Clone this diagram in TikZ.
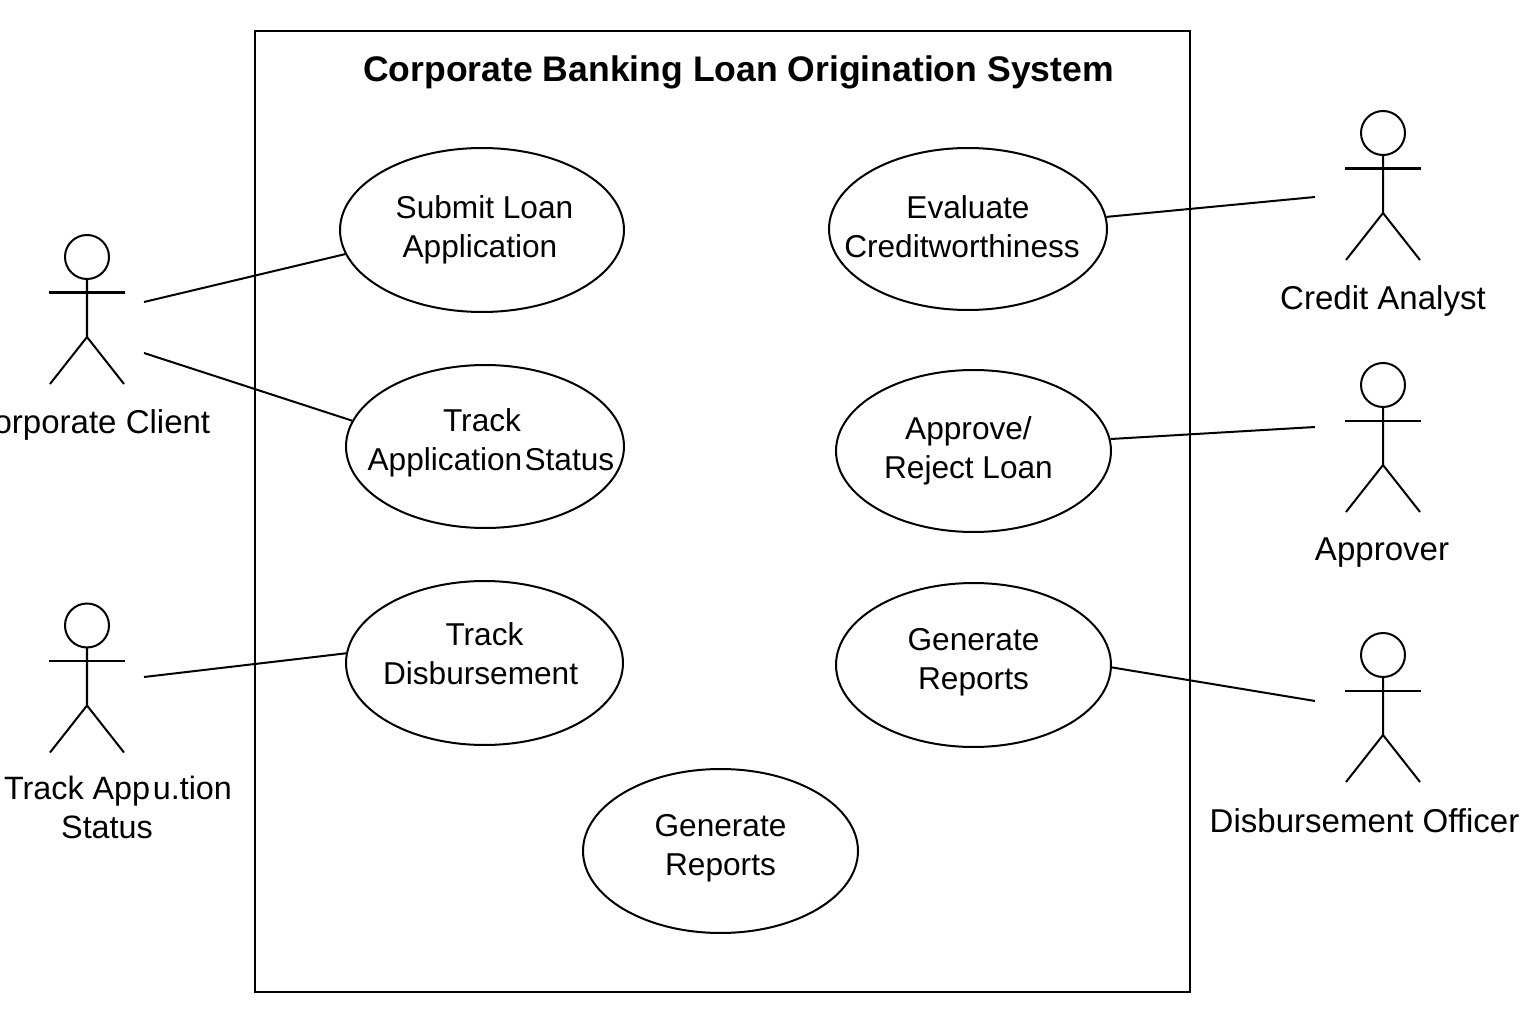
\documentclass[tikz,border=0pt]{standalone}
\usepackage{fontspec}
\setmainfont{Liberation Sans}
\usetikzlibrary{shapes.geometric}
\newcommand{\ucname}[3]{\makebox[0pt]{\begin{tabular}{@{}c@{}}#2\\#3\\[#1pt]\end{tabular}}}
\tikzset{
  usecase/.style={draw, ellipse, line width=1.14pt, inner sep=0pt, font=\fontsize{18}{22.2}\selectfont},
  actorname/.style={align=center, inner sep=0pt, font=\fontsize{18.8}{22.2}\selectfont},
  stickman/.pic={
    \draw (0,0) circle (22);
    \draw (0,22) -- (0,80) -- ++(-37,47);
    \draw (0,80) -- ++(37,47);
    \draw (-38,35.5) -- (38,35.5);
  }
}
\begin{document}
\begin{tikzpicture}[x=0.02cm, y=-0.02cm, line width=1.14pt]
\useasboundingbox (0,0) rectangle (1536,1024);
\draw (255,31) rectangle (1190,992);
\node[font=\fontsize{20.23}{24}\selectfont\bfseries] (title) at (738.5,72) {Corporate Banking Loan Origination System};

\node[usecase, minimum width=5.68cm, minimum height=3.28cm] (submit) at (482,230) {\ucname{-0.5}{\hspace*{2.8pt}Submit Loan}{Application\hspace*{2.3pt}}};
\node[usecase, minimum width=5.56cm, minimum height=3.26cm] (status) at (485,446.5) {\ucname{3.4}{Track\hspace*{3.4pt}}{\hspace*{6.8pt}Application\hspace{1.3pt}Status}};
\node[usecase, minimum width=5.54cm, minimum height=3.28cm] (disburse) at (484.5,663) {\ucname{6.4}{Track}{Disbursement\hspace*{4.5pt}}};
\node[usecase, minimum width=5.56cm, minimum height=3.24cm] (evaluate) at (968,229) {\ucname{-1.5}{Evaluate}{Creditworthiness\hspace*{6.8pt}}};
\node[usecase, minimum width=5.50cm, minimum height=3.24cm] (approve) at (973.5,451) {\ucname{-0.5}{Approve/\hspace*{5.7pt}}{Reject Loan\hspace*{5.7pt}}};
\node[usecase, minimum width=5.50cm, minimum height=3.28cm] (reports) at (973.5,665) {\ucname{3.6}{Generate}{Reports}};
\node[usecase, minimum width=5.50cm, minimum height=3.28cm] (reportsb) at (720.5,851) {\ucname{3.6}{Generate}{Reports}};

\pic at (87,257) {stickman};
\pic at (87,625.5) {stickman};
\pic at (1383,133) {stickman};
\pic at (1383,385) {stickman};
\pic at (1383,655) {stickman};

\node[actorname] (client) at (90,425) {Corporate Client};
\node[actorname, font=\fontsize{18.4}{22.2}\selectfont] (tracker) at (118,807.5) {Track App\hspace{1.5pt}u.tion\\Status\hspace*{12.5pt}};
\node[actorname] (analyst) at (1383,300.5) {Credit Analyst};
\node[actorname] (approver) at (1382,552.5) {Approver};
\node[actorname] (officer) at (1364.5,821) {Disbursement Officer};

\path (144,302) coordinate (clienta);
\path (144,353) coordinate (clientb);
\path (144,677) coordinate (trackera);
\path (1315,197) coordinate (analysta);
\path (1315,427) coordinate (approvera);
\path (1315,701) coordinate (officera);

\draw (clienta) -- (submit.190);
\draw (clientb) -- (status.169.5);
\draw (trackera) -- (disburse.176.5);
\draw (evaluate.5.4) -- (analysta);
\draw (approve.5) -- (approvera);
\draw (reports.-1.25) -- (officera);
\end{tikzpicture}
\end{document}
